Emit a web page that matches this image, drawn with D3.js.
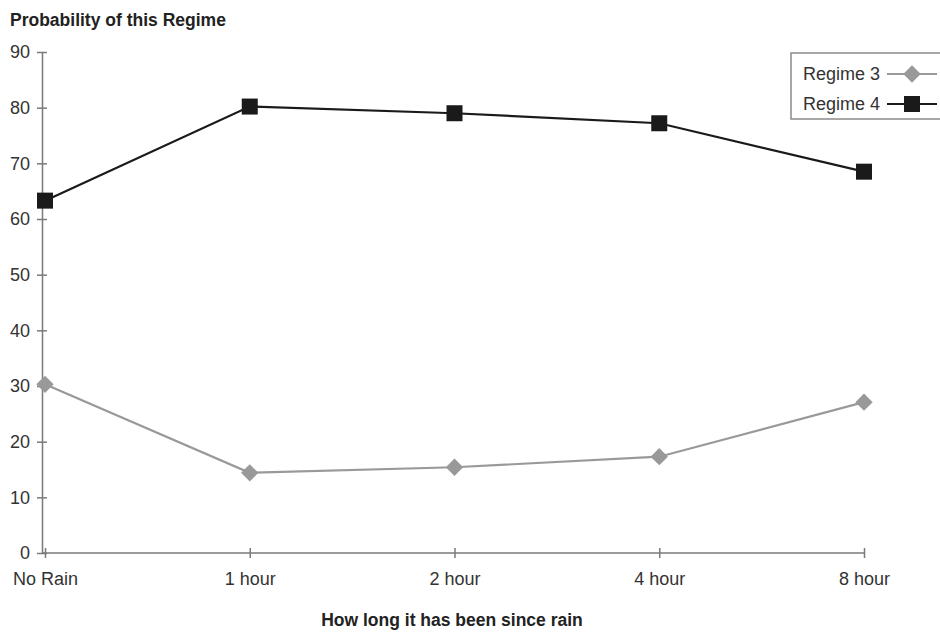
<!DOCTYPE html>
<html><head><meta charset="utf-8">
<script src="https://cdn.jsdelivr.net/npm/d3@7"></script>
<style>body{margin:0;background:#fff}svg{display:block}text{font-family:"Liberation Sans",Arial,sans-serif}</style>
</head><body>
<svg id="c" width="940" height="635"></svg>
<script>
const categories = ["No Rain","1 hour","2 hour","4 hour","8 hour"];
const regime3 = [30.3, 14.4, 15.4, 17.3, 27.1];
const regime4 = [63.3, 80.2, 79.0, 77.2, 68.5];
const yTicks = [0,10,20,30,40,50,60,70,80,90];
const seriesNames = ["Regime 3","Regime 4"];

const svg = d3.select("#c");
const x = d3.scalePoint().domain(categories).range([45, 864]);
const y = d3.scaleLinear().domain([0,90]).range([553, 52]);
const axisCol = "#7a7a7a", txtCol = "#333";

// y axis
const ya = svg.append("g").attr("transform","translate(42,0)")
  .call(d3.axisLeft(y).tickValues(yTicks).tickSize(0).tickPadding(12));
ya.select(".domain").attr("stroke",axisCol).attr("stroke-width",1.5);
ya.selectAll(".tick text").attr("font-size",18).attr("fill",txtCol).attr("x",-12);
ya.selectAll(".tick").append("line").attr("x1",-5).attr("x2",5).attr("stroke",axisCol).attr("stroke-width",1.5);

// x axis
const xa = svg.append("g").attr("transform","translate(0,553)")
  .call(d3.axisBottom(x).tickSize(0).tickPadding(19));
xa.select(".domain").attr("d","M42,0H"+x(categories[categories.length-1])).attr("stroke",axisCol).attr("stroke-width",1.5);
xa.selectAll(".tick text").attr("font-size",18).attr("fill",txtCol);
xa.selectAll(".tick").append("line").attr("y1",-5).attr("y2",5).attr("stroke",axisCol).attr("stroke-width",1.5);

// titles
svg.append("text").attr("x",10).attr("y",26).attr("font-size",17.5).attr("font-weight","bold").attr("fill","#222").text("Probability of this Regime");
svg.append("text").attr("x",452).attr("y",626).attr("text-anchor","middle").attr("font-size",17.5).attr("font-weight","bold").attr("fill","#222").text("How long it has been since rain");

const line = d3.line().x((d,i)=>x(categories[i])).y(d=>y(d));
const c3 = "#999999", c4 = "#1a1a1a";
svg.append("path").datum(regime3).attr("d",line).attr("fill","none").attr("stroke",c3).attr("stroke-width",2.2);
svg.append("path").datum(regime4).attr("d",line).attr("fill","none").attr("stroke",c4).attr("stroke-width",2.2);

const diamond = d3.symbol().type(d3.symbolSquare).size(150);
svg.selectAll(".m3").data(regime3).join("path")
  .attr("d",diamond).attr("fill",c3)
  .attr("transform",(d,i)=>`translate(${x(categories[i])},${y(d)}) rotate(45)`);
svg.selectAll(".m4").data(regime4).join("rect")
  .attr("x",(d,i)=>x(categories[i])-8).attr("y",d=>y(d)-8).attr("width",16).attr("height",16).attr("fill",c4);

// legend
const lg = svg.append("g");
lg.append("rect").attr("x",791).attr("y",53).attr("width",160).attr("height",66).attr("fill","#fff").attr("stroke","#8a8a8a").attr("stroke-width",1.5);
const ly = [74, 104];
seriesNames.forEach((n,i)=>{
  lg.append("text").attr("x",803).attr("y",ly[i]+6).attr("font-size",18).attr("fill",txtCol).text(n);
  lg.append("line").attr("x1",887).attr("x2",937).attr("y1",ly[i]).attr("y2",ly[i]).attr("stroke",i?c4:c3).attr("stroke-width",2.2);
});
lg.append("path").attr("d",diamond).attr("fill",c3).attr("transform",`translate(912,${ly[0]}) rotate(45)`);
lg.append("rect").attr("x",904).attr("y",ly[1]-8).attr("width",16).attr("height",16).attr("fill",c4);
</script>
</body></html>
